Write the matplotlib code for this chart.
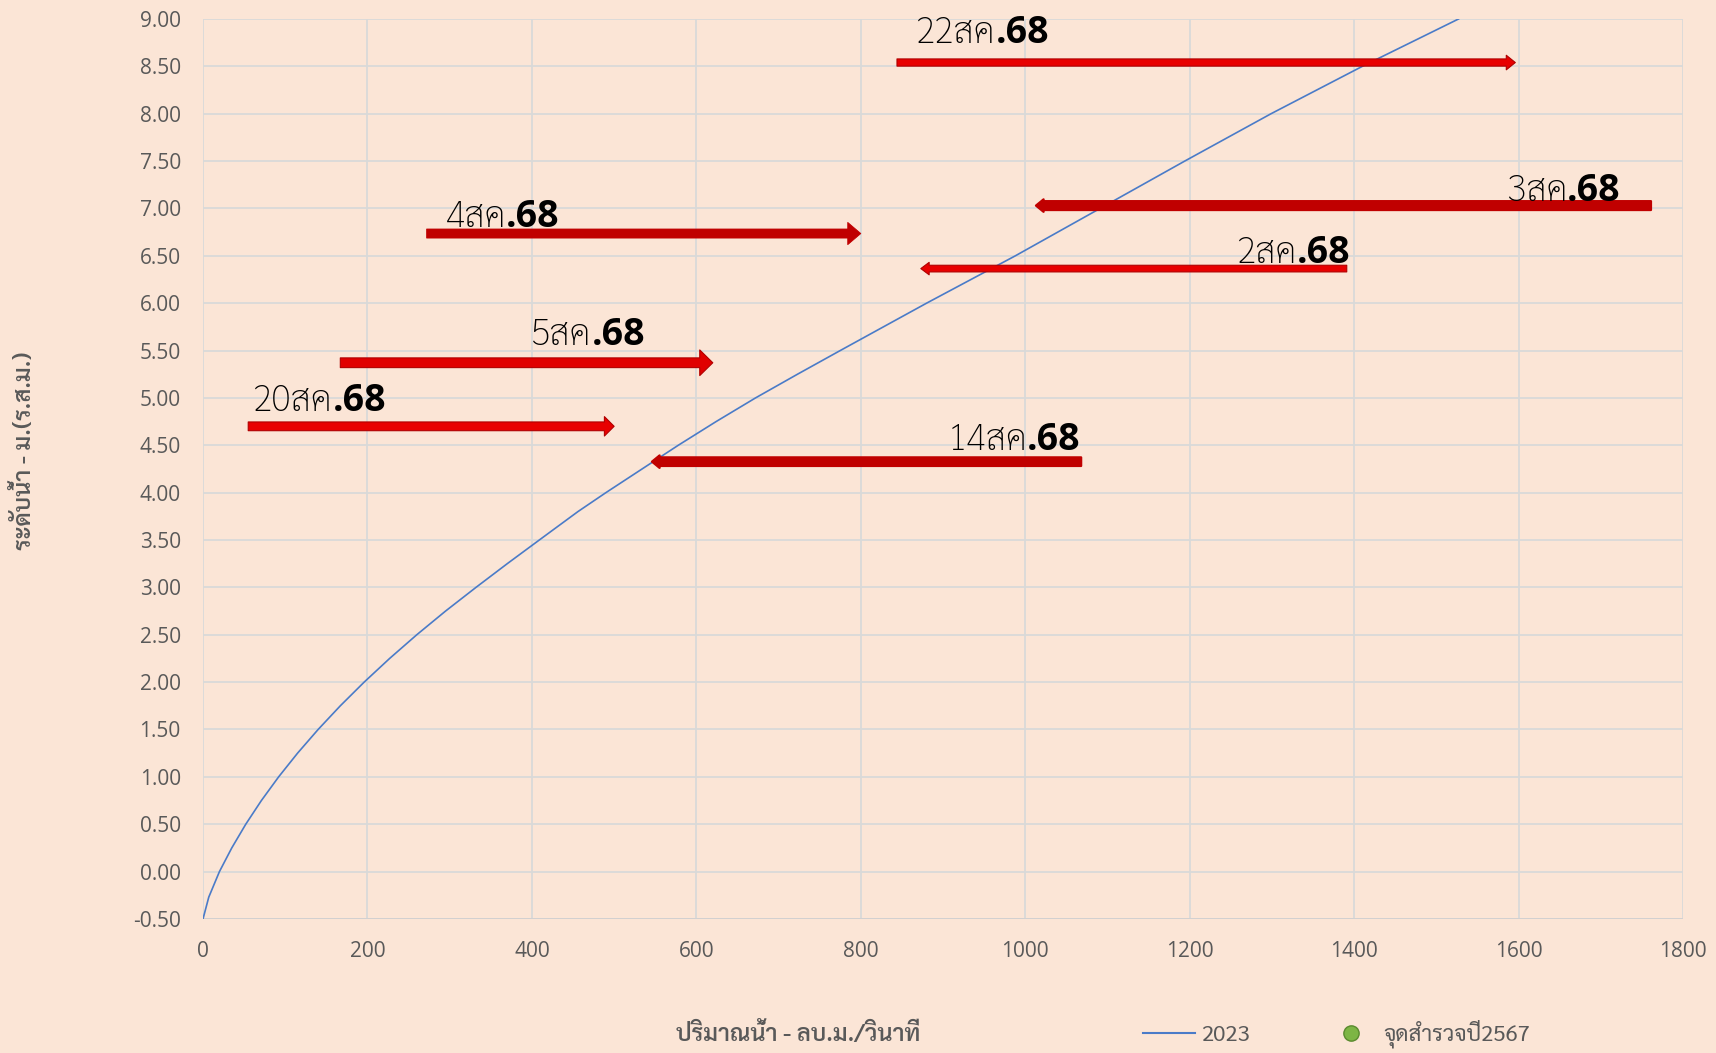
import matplotlib
matplotlib.use("Agg")
import matplotlib.pyplot as plt
from matplotlib import font_manager as fm
from matplotlib.ft2font import FT2Font
from matplotlib.lines import Line2D

# ---------------- data ----------------
curve_q = [0, 7, 20, 35, 52, 71, 92, 115, 140, 167, 196, 227, 260, 295, 332, 370, 409,
           456, 490, 578, 624, 672, 723, 775, 880, 988, 1091, 1194, 1299, 1410, 1527]
curve_h = [-0.50, -0.27, 0.00, 0.25, 0.50, 0.75, 1.00, 1.25, 1.50, 1.75, 2.00, 2.25,
           2.50, 2.75, 3.00, 3.25, 3.50, 3.80, 4.00, 4.50, 4.75, 5.00, 5.25, 5.50, 6.00,
           6.50, 7.00, 7.50, 8.00, 8.50, 9.00]
survey_q = []
survey_h = []

arrow_labels = ["22สค", "3สค", "4สค", "2สค", "5สค", "20สค", "14สค"]
arrow_year = ".68"
arrow_tail_q = [844, 1761, 272, 1391, 167, 55, 1068]
arrow_head_q = [1596, 1013, 800, 873, 620, 500, 546]
arrow_level = [8.54, 7.03, 6.735, 6.365, 5.371, 4.70, 4.327]
label_q = [867, 1724, 295, 1396, 399, 61, 1067]
label_h = [8.746, 7.082, 6.804, 6.423, 5.556, 4.863, 4.447]

xticks = [0, 200, 400, 600, 800, 1000, 1200, 1400, 1600, 1800]
yticks = [-0.5, 0, 0.5, 1, 1.5, 2, 2.5, 3, 3.5, 4, 4.5, 5, 5.5, 6, 6.5, 7, 7.5, 8, 8.5, 9]

xlabel = "ปริมาณน้ำ - ลบ.ม./วินาที"
ylabel = "ระดับน้ำ - ม.(ร.ส.ม.)"
legend_labels = ["2023", "จุดสำรวจปี2567"]


def find_thai_font():
    prefs = ["Sarabun", "Noto Sans Thai Looped", "Noto Sans Thai", "Tahoma", "Loma", "Garuda"]
    found = {}
    for f in fm.fontManager.ttflist:
        try:
            cm = FT2Font(f.fname).get_charmap()
        except Exception:
            continue
        if 0x0E2A in cm and 0x0E49 in cm and 0x0E33 in cm:
            found.setdefault(f.name, f.fname)
    for p in prefs:
        if p in found:
            return p
    if found:
        return sorted(found)[0]
    return None


thai = find_thai_font()
fams = ([thai] if thai else []) + ["Open Sans", "DejaVu Sans"]
plt.rcParams['font.family'] = fams
NUMFONT = ["Open Sans", "DejaVu Sans"]

BG = "#FBE5D6"
fig = plt.figure(figsize=(17.16, 10.53), dpi=100, facecolor=BG)
ax = fig.add_axes([0.1183, 0.1273, 0.8625, 0.8547], facecolor=BG)

ax.plot(curve_q, curve_h, color="#4A7BC8", lw=1.2, zorder=3)
ax.plot(survey_q, survey_h, 'o', color="#7DB544", mec="#5A8A2E", ms=11)

ax.set_xlim(0, 1800)
ax.set_ylim(-0.5, 9.0)
ax.set_xticks(xticks)
ax.set_yticks(yticks)
ax.set_xticklabels([str(t) for t in xticks], family=NUMFONT)
ax.set_yticklabels([f"{t:.2f}" for t in yticks], family=NUMFONT)
ax.tick_params(axis='both', length=0, labelsize=15, colors="#595959")
ax.tick_params(axis='y', pad=16)
ax.tick_params(axis='x', pad=16)
ax.grid(True, color="#D9D9D9", lw=1.3)
ax.set_axisbelow(True)
for s in ax.spines.values():
    s.set_visible(False)
ax.axhline(-0.5, color="#D0CECE", lw=1.8, zorder=1)

styles = [
    # (tail_width, head_width, head_length, face, edge, edge_width)
    (5.2, 10.5, 6.5, "#E80000", "#B00000", 0.8),
    (6.4, 9.0, 5.5, "#C00000", "#C00000", 1.6),
    (6.5, 16.0, 9.4, "#C00000", "#C00000", 0.6),
    (4.8, 9.0, 6.0, "#E80000", "#B00000", 0.8),
    (7.0, 18.5, 9.4, "#E00000", "#B00000", 0.8),
    (6.3, 14.0, 7.0, "#E80000", "#B00000", 0.8),
    (6.2, 9.0, 5.5, "#C00000", "#C00000", 1.6),
]
for i, lab in enumerate(arrow_labels):
    tw, hw, hl, fc, ec, elw = styles[i]
    ax.annotate("", xy=(arrow_head_q[i], arrow_level[i]), xytext=(arrow_tail_q[i], arrow_level[i]),
                arrowprops=dict(arrowstyle=f"simple,head_length={hl},head_width={hw},tail_width={tw}",
                                mutation_scale=1, fc=fc, ec=ec, lw=elw, joinstyle='round',
                                shrinkA=0, shrinkB=0),
                zorder=4)
    pointing_left = arrow_head_q[i] < arrow_tail_q[i]
    if pointing_left:
        t2 = ax.text(label_q[i], label_h[i], arrow_year, ha='right', va='baseline', fontsize=27,
                     fontweight='bold', family=NUMFONT, color="black", zorder=5)
        ax.annotate(lab, xy=(0, label_h[i]), xycoords=(t2, 'data'), ha='right', va='baseline',
                    fontsize=26, fontweight='light', color="black", zorder=5)
    else:
        t1 = ax.text(label_q[i], label_h[i], lab, ha='left', va='baseline', fontsize=26,
                     fontweight='light', color="black", zorder=5)
        ax.annotate(arrow_year, xy=(1, label_h[i]), xycoords=(t1, 'data'), ha='left', va='baseline',
                    fontsize=27, fontweight='bold', family=NUMFONT, color="black", zorder=5)

fig.text(0.014, 0.572, ylabel, rotation=90, ha='center', va='center', fontsize=17,
         fontweight='semibold', color="#595959")
fig.text(0.465, 0.018, xlabel, ha='center', va='center', fontsize=17,
         fontweight='semibold', color="#595959")

handles = [Line2D([], [], color="#4A7BC8", lw=1.5),
           Line2D([], [], ls='none', marker='o', color="#7DB544", mec="#5A8A2E", ms=11)]
fig.legend(handles, legend_labels, loc='center', bbox_to_anchor=(0.779, 0.018), ncol=2,
           frameon=False, fontsize=16, labelcolor="#595959", columnspacing=3.4,
           handlelength=2.3, handletextpad=0.3)

fig.savefig("out.png", dpi=100, facecolor=BG)
